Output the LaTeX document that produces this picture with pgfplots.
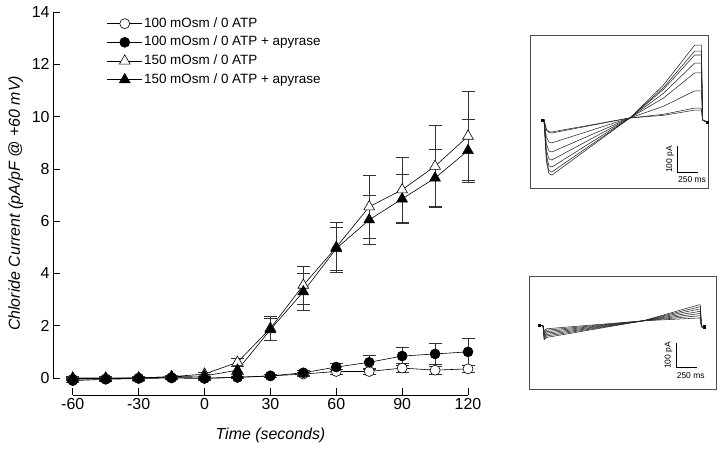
\documentclass[border=0pt]{standalone}
\usepackage{fontspec}
\setmainfont{Liberation Sans}
\usepackage{pgfplots}
\pgfplotsset{compat=1.18}
\pgfplotsset{trace/.style={line width=0.55bp, black!85, mark=none}}
\begin{document}
\begin{tikzpicture}[x=1bp,y=1bp]
\useasboundingbox (0,0) rectangle (720,450);
\begin{axis}[
  at={(53bp,55bp)}, anchor=south west, scale only axis,
  width=415bp, height=383bp,
  xmin=-69, xmax=120, ymin=-0.65, ymax=14,
  axis x line*=bottom, axis y line*=left,
  axis line style={draw=none},
  xtick={-60,-30,0,30,60,90,120},
  xticklabels={-60,-30,0,30,60,90,120},
  ytick={0,2,4,6,8,10,12,14},
  yticklabels={0,2,4,6,8,10,12,14},
  tick align=inside, major tick length=7bp,
  tick style={black, line width=0.6bp},
  tick label style={font=\fontsize{16}{18}\selectfont},
  xlabel={Time (seconds)},
  xlabel style={at={(axis description cs:0.524,0)}, anchor=base, yshift=-45bp, font=\fontsize{16}{18}\selectfont\itshape},
  ylabel={Chloride Current (pA/pF @ +60 mV)},
  ylabel style={at={(axis description cs:0,0.5)}, rotate=0, anchor=base, yshift=33bp, font=\fontsize{16}{18}\selectfont\itshape},
  clip=false,
  legend style={at={(axis description cs:0.130,0.9905)}, anchor=north west, draw=none, fill=none,
     inner sep=0pt, outer sep=0pt, font=\fontsize{13.5}{15}\selectfont, row sep=2.7bp,
     nodes={inner sep=1.5bp, text height=10bp, text depth=3bp}},
  legend cell align=left,
  legend image code/.code={\draw[mark repeat=2,mark phase=2] plot coordinates {(0bp,0bp)(17.5bp,0bp)(35bp,0bp)};},
  every axis plot/.append style={line width=0.6bp, black},
  error bars/y dir=both, error bars/y explicit,
  error bars/error mark options={rotate=90, mark size=6.5bp, line width=0.6bp, black!80},
  error bars/error bar style={line width=0.6bp, black!80},
]
\addplot[mark=*, mark size=5bp, mark options={fill=white, solid}] table[x=t, y=v, y error=e] {
t v e
-60 -0.05 0.1
-45 -0.03 0.08
-30 0 0.05
-15 0.02 0.05
0 0 0.05
15 0.02 0.05
30 0.08 0.05
45 0.15 0.08
60 0.25 0.1
75 0.25 0.12
90 0.38 0.18
105 0.3 0.15
120 0.35 0.15
};
\addlegendentry{100 mOsm / 0 ATP}
\addplot[mark=*, mark size=5bp, mark options={fill=black, solid}] table[x=t, y=v, y error=e] {
t v e
-60 -0.1 0.08
-45 -0.05 0.05
-30 -0.02 0.05
-15 0 0.05
0 -0.02 0.05
15 0.03 0.05
30 0.08 0.06
45 0.2 0.1
60 0.42 0.15
75 0.6 0.25
90 0.84 0.35
105 0.92 0.4
120 1.0 0.5
};
\addlegendentry{100 mOsm / 0 ATP + apyrase}
\addplot[mark=triangle*, mark size=6.2bp, mark options={fill=white, solid}] table[x=t, y=v, y error=e] {
t v e
-60 0 0.05
-45 0 0.05
-30 0 0.05
-15 0.05 0.05
0 0.15 0.08
15 0.6 0.15
30 1.9 0.45
45 3.55 0.73
60 5.0 0.97
75 6.55 1.2
90 7.2 1.25
105 8.1 1.57
120 9.25 1.7
};
\addlegendentry{150 mOsm / 0 ATP}
\addplot[mark=triangle*, mark size=6.2bp, mark options={fill=black, solid}] table[x=t, y=v, y error=e] {
t v e
-60 -0.02 0.05
-45 -0.02 0.05
-30 0 0.05
-15 0.05 0.05
0 0.08 0.08
15 0.3 0.15
30 1.85 0.42
45 3.3 0.7
60 4.95 0.82
75 6.05 0.95
90 6.85 0.95
105 7.65 1.1
120 8.7 1.2
};
\addlegendentry{150 mOsm / 0 ATP + apyrase}
\draw[line width=0.6bp] (axis cs:-60,-0.65) -- (axis cs:120,-0.65);
\draw[line width=0.6bp] (axis cs:-69,0) -- (axis cs:-69,14);
\end{axis}

% top inset
\begin{axis}[
  at={(530bp,262bp)}, anchor=south west, scale only axis,
  width=178bp, height=153bp,
  xmin=0, xmax=2119, ymin=-261.5, ymax=327,
  ticks=none, axis line style={line width=0.7bp, black!70},
]
\addplot[trace] coordinates {(143,0)(167,0)(195,-35)(225,-45)(260,-46)(1190,8)(1590,18)(1960,38)(2040,38)(2055,0)(2107,-8)};
\addplot[trace] coordinates {(143,0)(167,0)(195,-38)(225,-48)(260,-50)(1190,8)(1590,22)(1960,46)(2040,46)(2055,0)(2107,-8)};
\addplot[trace] coordinates {(143,0)(167,0)(195,-66)(225,-85)(260,-88)(1190,8)(1590,53)(1960,112)(2040,112)(2055,0)(2107,-8)};
\addplot[trace] coordinates {(143,0)(167,0)(195,-92)(225,-119)(260,-123)(1190,8)(1590,85)(1960,181)(2040,181)(2055,0)(2107,-8)};
\addplot[trace] coordinates {(143,0)(167,0)(195,-116)(225,-149)(260,-154)(1190,8)(1590,103)(1960,219)(2040,219)(2055,0)(2107,-8)};
\addplot[trace] coordinates {(143,0)(167,0)(195,-136)(225,-176)(260,-181)(1190,8)(1590,118)(1960,250)(2040,250)(2055,0)(2107,-8)};
\addplot[trace] coordinates {(143,0)(167,0)(195,-150)(225,-194)(260,-200)(1190,8)(1590,125)(1960,265)(2040,265)(2055,0)(2107,-8)};
\addplot[trace] coordinates {(143,0)(167,0)(195,-159)(225,-206)(260,-212)(1190,8)(1590,135)(1960,288)(2040,288)(2055,0)(2107,-8)};
\addplot[black, mark=square*, mark size=1.2bp, only marks] coordinates {(143,0)(2107,-8)};
\addplot[line width=0.6bp, black, mark=none] coordinates {(1750,-100)(1750,-200)(2000,-200)};
\end{axis}

% bottom inset
\begin{axis}[
  at={(529bp,61bp)}, anchor=south west, scale only axis,
  width=187bp, height=113bp,
  xmin=0, xmax=2226, ymin=-263, ymax=208,
  ticks=none, axis line style={line width=0.7bp, black!70},
]
\addplot[trace] coordinates {(119,4)(167,0)(180,-22)(210,-12)(1357,21)(2024,33)(2040,33)(2052,-4)(2083,-4)};
\addplot[trace] coordinates {(119,4)(167,0)(180,-28)(210,-18)(1357,21)(2024,42)(2040,42)(2052,-4)(2083,-4)};
\addplot[trace] coordinates {(119,4)(167,0)(180,-34)(210,-24)(1357,21)(2024,51)(2040,51)(2052,-4)(2083,-4)};
\addplot[trace] coordinates {(119,4)(167,0)(180,-40)(210,-30)(1357,21)(2024,60)(2040,60)(2052,-4)(2083,-4)};
\addplot[trace] coordinates {(119,4)(167,0)(180,-46)(210,-36)(1357,21)(2024,70)(2040,70)(2052,-4)(2083,-4)};
\addplot[trace] coordinates {(119,4)(167,0)(180,-52)(210,-42)(1357,21)(2024,79)(2040,79)(2052,-4)(2083,-4)};
\addplot[trace] coordinates {(119,4)(167,0)(180,-58)(210,-48)(1357,21)(2024,88)(2040,88)(2052,-4)(2083,-4)};
\addplot[black, mark=square*, mark size=1.2bp, only marks] coordinates {(119,4)(2083,-4)};
\addplot[line width=0.6bp, black, mark=none] coordinates {(1750,-71)(1750,-171)(2000,-171)};
\end{axis}

\node[rotate=90, font=\fontsize{8.5}{10}\selectfont, inner sep=0pt] at (670,290.5) {100 pA};
\node[font=\fontsize{8.5}{10}\selectfont, inner sep=0pt] at (692,270) {250 ms};
\node[rotate=90, font=\fontsize{8.5}{10}\selectfont, inner sep=0pt] at (668.5,94.5) {100 pA};
\node[font=\fontsize{8.5}{10}\selectfont, inner sep=0pt] at (690.7,74) {250 ms};
\end{tikzpicture}
\end{document}
